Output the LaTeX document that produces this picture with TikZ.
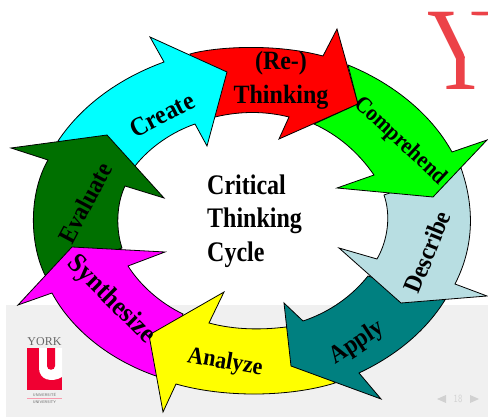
\documentclass[tikz,border=0pt]{standalone}
\usepackage{fontspec}
\setmainfont{Liberation Serif}
\tikzset{
    cyclearrow/.style={draw=black,line width=0.8pt,line join=miter},
    cyclelabel/.style={font=\bfseries\fontsize{#1}{#1}\selectfont,inner sep=0pt,text=black,yscale=1.1},
    logotext/.style={font=\fontsize{#1}{#1}\selectfont,inner sep=0pt,text=black!60},
    smalltext/.style={font=\sffamily\addfontfeature{LetterSpace=22}\fontsize{3.8}{4}\selectfont,inner sep=0pt,text=black!60}
}
\definecolor{darkgrn}{RGB}{0,112,0}
\definecolor{paleblue}{RGB}{184,222,226}
\definecolor{tealarrow}{RGB}{0,128,128}
\definecolor{cyanarrow}{RGB}{0,255,255}
\definecolor{magentaarrow}{RGB}{255,0,255}
\definecolor{yellowarrow}{RGB}{255,255,0}
\definecolor{greenarrow}{RGB}{0,255,0}
\definecolor{redarrow}{RGB}{255,0,0}
\definecolor{yorkred}{RGB}{236,66,72}
\definecolor{logored}{RGB}{240,0,50}
\begin{document}
\begin{tikzpicture}[x=1pt,y=-1pt]
    \useasboundingbox (0,0) rectangle (488,417);
    \fill[white] (0,0) rectangle (488,417);
    \fill[black!6] (6,305) rectangle (488,417);
    \node[font=\fontsize{118}{118}\selectfont,text=yorkred,inner sep=0pt,anchor=base west,xscale=0.78] (bigY) at (427,90) {Y};
    % thin arm of the Y does not show
    \fill[white] (463,52) -- (466,60) -- (488,60) -- (488,15.5) -- (466,15.5) -- cycle;
    % logo
    \node[logotext=12] (yorktext) at (44.5,341.5) {YORK};
    \fill[logored] (27,348) rectangle (62,390);
    \fill[white] (39,348) -- (39,368) .. controls (39,380) and (52,383) .. (62,377) -- (62,348) -- cycle;
    \fill[logored] (47,348) -- (47,366) .. controls (47,371) and (55,371) .. (55,366) -- (55,348) -- cycle;
    \node[smalltext] (frtext) at (44.5,394.5) {UNIVERSITÉ};
    \fill[logored!40] (27,398) rectangle (62,398.6);
    \node[smalltext] (entext) at (44.5,402) {UNIVERSITY};
    % page number
    \fill[black!18] (437,399) -- (446,395) -- (446,403) -- cycle;
    \fill[black!18] (479,399) -- (470,395) -- (470,403) -- cycle;
    \node[font=\sffamily\fontsize{11}{11}\selectfont,text=black!18,inner sep=0pt,xscale=0.8] (pagenum) at (458,399) {18};
    % arrows, red first
    \draw[cyclearrow,fill=redarrow] (190,54) .. controls (210,48) and (270,42) .. (323,56) -- (337,29) -- (358,104) -- (279,139) -- (289,117) .. controls (265,111) and (240,111) .. (215,117) -- cycle;
    \draw[cyclearrow,fill=cyanarrow] (58,141) .. controls (82,105) and (120,78) .. (164,62) -- (150,37) -- (227,72) -- (207,146) -- (195,124) .. controls (172,132) and (150,147) .. (135,166) -- cycle;
    \draw[cyclearrow,fill=darkgrn] (45,275) .. controls (30,245) and (28,195) .. (48,160) -- (11,148) -- (107,135) -- (164,198) -- (125,186) .. controls (116,205) and (116,230) .. (122,248) -- cycle;
    \draw[cyclearrow,fill=magentaarrow] (156,376) .. controls (110,360) and (72,330) .. (52,293) -- (18,305) -- (72,247) -- (165,252) -- (128,266) .. controls (140,285) and (160,303) .. (183,314) -- cycle;
    \draw[cyclearrow,fill=yellowarrow] (335,383) .. controls (290,397) and (225,398) .. (176,384) -- (163,412) -- (149,335) -- (224,292) -- (209,323) .. controls (235,330) and (262,330) .. (286,327) -- cycle;
    \draw[cyclearrow,fill=tealarrow] (445,300) .. controls (425,332) and (395,356) .. (359,373) -- (381,399) -- (291,366) -- (284,303) -- (303,321) .. controls (330,312) and (352,296) .. (368,276) -- cycle;
    \draw[cyclearrow,fill=paleblue] (461,168) .. controls (474,205) and (475,245) .. (455,284) -- (487,296) -- (401,303) -- (339,248) -- (377,259) .. controls (388,240) and (391,215) .. (384,195) -- cycle;
    \draw[cyclearrow,fill=greenarrow] (348,65) .. controls (390,82) and (430,112) .. (452,152) -- (487,140) -- (433,197) -- (337,188) -- (374,175) .. controls (358,152) and (338,135) .. (314,124) -- (358,104) -- cycle;
    % labels
    \node[rotate=27,cyclelabel=24] (create) at (162,115) {Create};
    \node[cyclelabel=24] (rethink) at (281,63) {(Re-)};
    \node[cyclelabel=24] (thinking) at (281,97) {Thinking};
    \node[rotate=-43,cyclelabel=21] (comprehend) at (400,141) {Comprehend};
    \node[rotate=68,cyclelabel=23] (describe) at (427,252) {Describe};
    \node[rotate=33,cyclelabel=23] (apply) at (357,343) {Apply};
    \node[rotate=-10,cyclelabel=22] (analyze) at (225,363) {Analyze};
    \node[rotate=-45,cyclelabel=25] (synthesize) at (111,300) {Synthesize};
    \node[rotate=62,cyclelabel=23] (evaluate) at (85,203) {Evaluate};
    \node[font=\bfseries\fontsize{24}{28.5}\selectfont,inner sep=0pt,align=left,anchor=west,yscale=1.18] (cycletitle) at (207,221) {Critical\\Thinking\\Cycle};
\end{tikzpicture}
\end{document}
